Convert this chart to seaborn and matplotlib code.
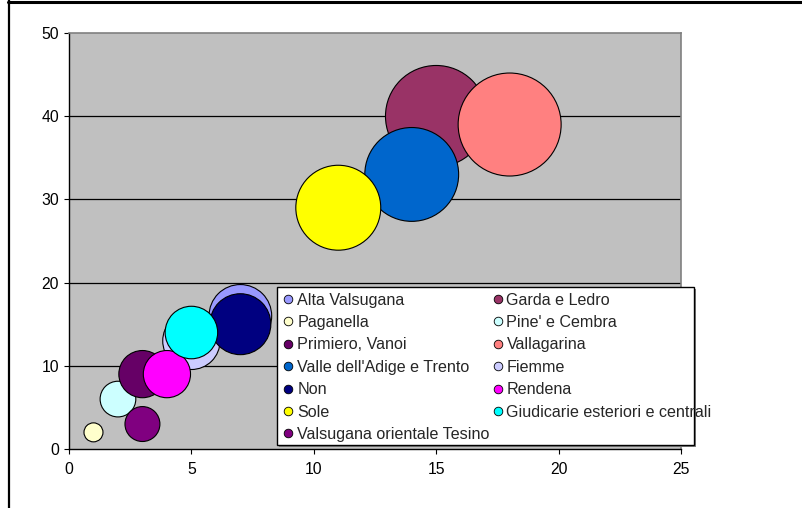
import matplotlib
matplotlib.use("Agg")
import matplotlib.pyplot as plt
from matplotlib.lines import Line2D
from matplotlib.patches import Rectangle
import pandas as pd
import seaborn as sns

# Comunità di valle: position (x, y) and bubble size
zones = [
    "Alta Valsugana", "Garda e Ledro", "Paganella", "Pine' e Cembra",
    "Primiero, Vanoi", "Vallagarina", "Valle dell'Adige e Trento", "Fiemme",
    "Non", "Rendena", "Sole", "Giudicarie esteriori e centrali",
    "Valsugana orientale Tesino",
]
x_vals = [7, 15, 1, 2, 3, 18, 14, 5, 7, 4, 11, 5, 3]
y_vals = [16, 40, 2, 6, 9, 39, 33, 13, 15, 9, 29, 14, 3]
bubble = [37, 97, 3.4, 12, 21, 100, 83, 31, 35, 21, 68, 26, 11.5]
colors = [
    "#9999FF", "#993366", "#FFFFCC", "#CCFFFF", "#660066", "#FF8080",
    "#0066CC", "#CCCCFF", "#000080", "#FF00FF", "#FFFF00", "#00FFFF",
    "#800080",
]
x_ticks = [0, 5, 10, 15, 20, 25]
y_ticks = [0, 10, 20, 30, 40, 50]

df = pd.DataFrame({"zona": zones, "x": x_vals, "y": y_vals, "size": bubble})

sns.set_style("white")
plt.rcParams["font.family"] = ["Liberation Sans", "DejaVu Sans"]

W, H = 802, 508
fig = plt.figure(figsize=(W / 100, H / 100), dpi=100)
ax = fig.add_axes([69 / W, 59 / H, 612 / W, 416 / H])
ax.set_facecolor("#C0C0C0")

# largest bubble about 103 px across
max_area = (103 * 0.72) ** 2
sns.scatterplot(
    data=df, x="x", y="y", hue="zona", palette=dict(zip(zones, colors)),
    size="size", sizes=(0, max_area), size_norm=(0, max(bubble)),
    edgecolor="black", linewidth=0.8, alpha=1, legend=False, ax=ax, zorder=3,
)

ax.set_xlim(0, 25)
ax.set_ylim(0, 50)
ax.set_xticks(x_ticks)
ax.set_yticks(y_ticks)
ax.set_xlabel("")
ax.set_ylabel("")

for yv in y_ticks[1:-1]:
    ax.axhline(yv, color="black", lw=0.9, zorder=1)

for side in ("left", "bottom"):
    ax.spines[side].set_color("black")
    ax.spines[side].set_linewidth(1.0)
for side in ("top", "right"):
    ax.spines[side].set_color("#808080")
    ax.spines[side].set_linewidth(1.2)

ax.tick_params(axis="both", direction="out", length=3.6, width=0.8,
               color="black", labelsize=11.3, labelcolor="black")
ax.tick_params(axis="x", pad=6)
ax.tick_params(axis="y", pad=3.6)
ax.tick_params(left=True, bottom=True)

# legend box: fixed size, the longest label runs past its right edge
box_x0, box_y0, box_x1, box_y1 = 277, 287, 694, 445
fig.add_artist(Rectangle((box_x0 + 2 / 1, H - box_y1 - 2), box_x1 - box_x0,
                         box_y1 - box_y0, transform=None, facecolor="#808080",
                         edgecolor="none", zorder=4))
fig.add_artist(Rectangle((box_x0, H - box_y1), box_x1 - box_x0,
                         box_y1 - box_y0, transform=None, facecolor="white",
                         edgecolor="black", lw=1.0, zorder=4.5))

handles = [
    Line2D([], [], ls="", marker="o", ms=6.2, mfc=c, mec="black", mew=0.6)
    for c in colors
]
order = [0, 2, 4, 6, 8, 10, 12, 1, 3, 5, 7, 9, 11]
leg = fig.legend(
    [handles[i] for i in order], [zones[i] for i in order],
    ncol=2, loc="upper left",
    bbox_to_anchor=(box_x0 / W, 1 - box_y0 / H), bbox_transform=fig.transFigure,
    borderaxespad=0, frameon=False, fontsize=11.6, labelspacing=0.46,
    handlelength=0.7, handletextpad=0.2, columnspacing=0.15, borderpad=0.35,
)
leg.set_zorder(5)

# outer frame of the chart area
fig.add_artist(Line2D([8 / W, 1], [1 - 1.5 / H] * 2, transform=fig.transFigure,
                      color="black", lw=2.2))
fig.add_artist(Line2D([8.5 / W] * 2, [0, 1], transform=fig.transFigure,
                      color="black", lw=1.6))

fig.savefig("out.png", dpi=100)
